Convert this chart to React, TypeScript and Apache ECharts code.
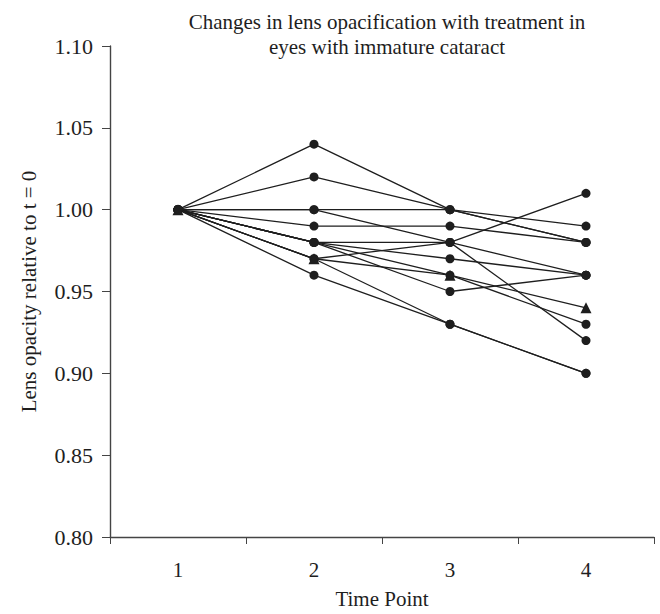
import React, { useEffect, useRef } from "react";
import * as echarts from "echarts";

const timePoints = ["1", "2", "3", "4"];
const yTicks = { min: 0.8, max: 1.1, interval: 0.05 };

const eyeA = [1.0, 1.04, 1.0, 0.99];
const eyeB = [1.0, 1.02, 1.0, 0.98];
const eyeC = [1.0, 1.0, 1.0, 0.98];
const eyeD = [1.0, 1.0, 0.98, 1.01];
const eyeE = [1.0, 0.99, 0.99, 0.98];
const eyeF = [1.0, 0.98, 0.98, 0.96];
const eyeG = [1.0, 0.98, 0.97, 0.96];
const eyeH = [1.0, 0.98, 0.96, 0.93];
const eyeI = [1.0, 0.98, 0.95, 0.96];
const eyeJ = [1.0, 0.97, 0.98, 0.92];
const eyeK = [1.0, 0.97, 0.96, 0.94]; // triangle markers
const eyeL = [1.0, 0.97, 0.93, 0.9];
const eyeM = [1.0, 0.96, 0.93, 0.9];

const circleEyes = [eyeA, eyeB, eyeC, eyeD, eyeE, eyeF, eyeG, eyeH, eyeI, eyeJ, eyeL, eyeM];
const triangleEyes = [eyeK];

const FONT = "Liberation Serif";
const INK = "#1e1e1e";

export default function App() {
  const ref = useRef<HTMLDivElement>(null);
  useEffect(() => {
    if (!ref.current) return;
    const chart = echarts.init(ref.current, null, { renderer: "svg" });
    const mk = (d: number[], sym: string, size: number) => ({
      type: "line",
      data: d,
      symbol: sym,
      symbolSize: size,
      showAllSymbol: true,
      lineStyle: { color: INK, width: 1.3 },
      itemStyle: { color: INK, borderWidth: 0 },
      emphasis: { disabled: true },
    });
    const series = [
      ...circleEyes.map((d) => mk(d, "circle", 9)),
      ...triangleEyes.map((d) => mk(d, "triangle", 11)),
    ];
    chart.setOption({
      animation: false,
      backgroundColor: "#ffffff",
      textStyle: { fontFamily: FONT, color: INK },
      title: {
        text: "Changes in lens opacification with treatment in\neyes with immature cataract",
        left: 382,
        top: 4,
        textAlign: "center",
        textStyle: { fontFamily: FONT, fontSize: 21, fontWeight: "normal", color: INK, lineHeight: 25 },
      },
      grid: { left: 110, right: 6, top: 46, bottom: 71, containLabel: false },
      xAxis: {
        type: "category",
        data: timePoints,
        boundaryGap: true,
        name: "Time Point",
        nameLocation: "middle",
        nameGap: 51,
        nameTextStyle: { fontFamily: FONT, fontSize: 21, color: INK },
        axisLine: { lineStyle: { color: "#444", width: 1.4 } },
        axisTick: { show: true, length: 7, alignWithLabel: false, lineStyle: { color: "#444" } },
        axisLabel: { fontFamily: FONT, fontSize: 21, color: INK, margin: 22 },
        splitLine: { show: false },
      },
      yAxis: {
        type: "value",
        min: yTicks.min,
        max: yTicks.max,
        interval: yTicks.interval,
        name: "Lens opacity relative to t = 0",
        nameLocation: "middle",
        nameGap: 71,
        nameRotate: 90,
        nameTextStyle: { fontFamily: FONT, fontSize: 21, color: INK },
        axisLine: { show: true, lineStyle: { color: "#444", width: 1.4 } },
        axisTick: { show: true, length: 8, lineStyle: { color: "#444" } },
        axisLabel: {
          fontFamily: FONT,
          fontSize: 22,
          color: INK,
          margin: 17,
          formatter: (v: number) => v.toFixed(2),
        },
        splitLine: { show: false },
      },
      series,
    });
    return () => chart.dispose();
  }, []);
  return <div ref={ref} style={{ width: 660, height: 614, position: "absolute", left: 0, top: 0 }} />;
}
